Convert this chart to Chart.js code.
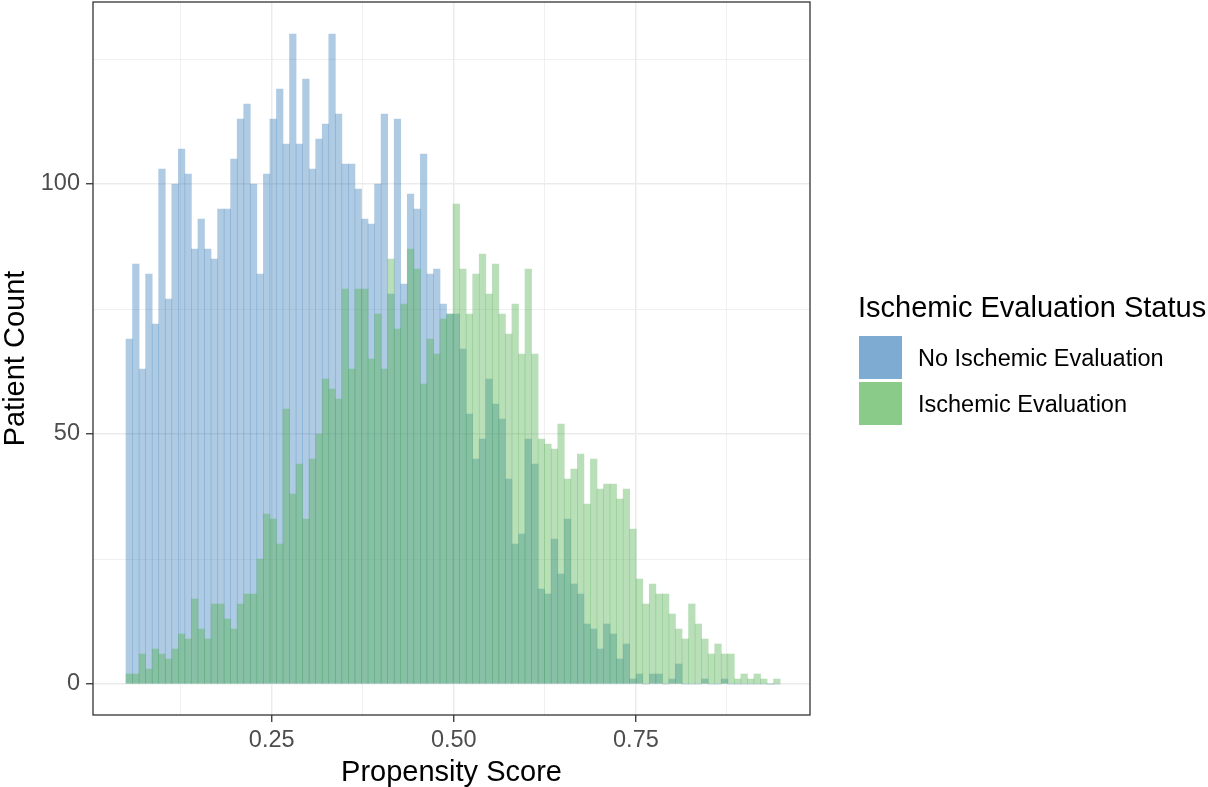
<!DOCTYPE html>
<html>
<head>
<meta charset="utf-8">
<script src="https://cdn.jsdelivr.net/npm/chart.js@4.4.1/dist/chart.umd.min.js"></script>
<style>
  html, body { margin: 0; padding: 0; background: #ffffff; }
  canvas { display: block; }
</style>
</head>
<body>
<canvas id="chart-propensity" width="1208" height="787"></canvas>
<script>
// histogram bins (propensity score)
const binStart = 0.05;
const binWidth = 0.00898;

// patient counts per bin
const noEvalCounts = [
  69, 84, 63, 82, 72, 103, 77, 100, 107, 102,
  87, 93, 87, 85, 95, 95, 105, 113, 116, 100,
  82, 102, 113, 119, 108, 130, 108, 121, 103, 109,
  112, 130, 114, 104, 104, 99, 93, 92, 100, 114,
  78, 113, 80, 98, 95, 106, 82, 83, 76, 74,
  74, 67, 54, 45, 49, 61, 56, 53, 41, 28,
  30, 49, 44, 19, 18, 29, 22, 33, 20, 18,
  12, 11, 7, 12, 10, 5, 8, 1, 2, 0,
  2, 2, 0, 1, 4, 0, 0, 0, 1, 0,
  0, 1, 0, 0, 0, 0, 0, 0, 0, 0
];
const evalCounts = [
  2, 2, 6, 3, 7, 6, 5, 7, 10, 9,
  17, 11, 9, 16, 16, 13, 11, 16, 18, 18,
  25, 34, 33, 28, 55, 38, 44, 33, 45, 50,
  61, 59, 57, 79, 63, 79, 79, 65, 74, 63,
  85, 71, 76, 87, 83, 60, 69, 66, 73, 74,
  96, 83, 74, 82, 86, 78, 84, 74, 70, 76,
  66, 83, 66, 49, 48, 47, 52, 41, 43, 46,
  36, 45, 39, 40, 40, 37, 39, 31, 21, 16,
  20, 18, 18, 14, 11, 9, 16, 12, 9, 6,
  8, 6, 6, 1, 2, 1, 2, 1, 0, 1
];

const seriesNames = ['No Ischemic Evaluation', 'Ischemic Evaluation'];
const legendTitle = 'Ischemic Evaluation Status';

// ticks: empty label = minor grid line only
const xTicks = [0.125, 0.25, 0.375, 0.5, 0.625, 0.75, 0.875];
const xTickLabels = ['', '0.25', '', '0.50', '', '0.75', ''];
const yTicks = [0, 25, 50, 75, 100, 125];
const yTickLabels = ['0', '', '50', '', '100', ''];

const FONT = '"Liberation Sans", Arial, Helvetica, sans-serif';
const barColors = ['rgba(55, 126, 184, 0.4)', 'rgba(77, 175, 74, 0.4)'];
const keyColors = ['rgba(55, 126, 184, 0.65)', 'rgba(77, 175, 74, 0.65)'];

const binCenters = noEvalCounts.map((_, i) => binStart + (i + 0.5) * binWidth);
const toPoints = counts => counts.map((c, i) => ({ x: binCenters[i], y: c }));

// box round the panel, like theme_bw
const panelBorder = {
  id: 'panelBorder',
  afterDatasetsDraw(chart) {
    const { ctx, chartArea: a } = chart;
    ctx.save();
    ctx.strokeStyle = '#333333';
    ctx.lineWidth = 1.3;
    ctx.strokeRect(a.left, a.top, a.right - a.left, a.bottom - a.top);
    ctx.restore();
  }
};

// legend on the right, drawn next to the panel
const sideLegend = {
  id: 'sideLegend',
  afterDraw(chart) {
    const { ctx, chartArea } = chart;
    const x0 = chartArea.right + 49;
    ctx.save();
    ctx.fillStyle = '#000000';
    ctx.font = '29px ' + FONT;
    ctx.textAlign = 'left';
    ctx.textBaseline = 'alphabetic';
    ctx.fillText(legendTitle, x0 - 1, 317);
    chart.data.datasets.forEach((ds, i) => {
      const top = 336 + i * 46;
      ctx.fillStyle = keyColors[i];
      ctx.fillRect(x0, top, 43, 43);
      ctx.fillStyle = '#000000';
      ctx.font = '23.5px ' + FONT;
      ctx.textBaseline = 'middle';
      ctx.fillText(ds.label, x0 + 59, top + 24);
    });
    ctx.restore();
  }
};

const isMajor = labels => ctx => labels[ctx.index] !== '';

new Chart(document.getElementById('chart-propensity'), {
  type: 'bar',
  data: {
    datasets: [
      {
        label: seriesNames[0],
        data: toPoints(noEvalCounts),
        backgroundColor: barColors[0],
        borderWidth: 0,
        order: 2 // drawn first, green goes on top
      },
      {
        label: seriesNames[1],
        data: toPoints(evalCounts),
        backgroundColor: barColors[1],
        borderWidth: 0,
        order: 1
      }
    ]
  },
  options: {
    responsive: false,
    animation: false,
    grouped: false,
    barPercentage: 1,
    categoryPercentage: 1,
    layout: { padding: { left: 0, top: 2, right: 398, bottom: 0 } },
    plugins: {
      legend: { display: false },
      tooltip: { enabled: false }
    },
    scales: {
      x: {
        type: 'linear',
        min: 0.0047,
        max: 0.989,
        offset: false,
        afterBuildTicks: axis => { axis.ticks = xTicks.map(v => ({ value: v })); },
        afterFit: axis => {
          axis.height = 72;
          axis.paddingLeft = 0;
          axis.paddingRight = 0;
        },
        ticks: {
          autoSkip: false,
          maxRotation: 0,
          padding: 4,
          color: '#4D4D4D',
          font: { family: FONT, size: 23.5 },
          callback: (v, i) => xTickLabels[i]
        },
        grid: {
          offset: false,
          color: '#EBEBEB',
          lineWidth: ctx => isMajor(xTickLabels)(ctx) ? 1.5 : 0.75,
          tickLength: 7,
          tickWidth: 1.3,
          tickColor: ctx => isMajor(xTickLabels)(ctx) ? '#333333' : 'rgba(0,0,0,0)'
        },
        border: { display: false },
        title: {
          display: true,
          text: 'Propensity Score',
          color: '#000000',
          font: { family: FONT, size: 29, lineHeight: 1 },
          padding: { top: 0, bottom: 0 }
        }
      },
      y: {
        min: -6.2,
        max: 136.4,
        afterBuildTicks: axis => { axis.ticks = yTicks.map(v => ({ value: v })); },
        afterFit: axis => {
          axis.width = 93;
          axis.paddingTop = 0;
          axis.paddingBottom = 0;
        },
        ticks: {
          autoSkip: false,
          padding: 6,
          color: '#4D4D4D',
          font: { family: FONT, size: 23.5 },
          callback: (v, i) => yTickLabels[i]
        },
        grid: {
          color: '#EBEBEB',
          lineWidth: ctx => isMajor(yTickLabels)(ctx) ? 1.5 : 0.75,
          tickLength: 7,
          tickWidth: 1.3,
          tickColor: ctx => isMajor(yTickLabels)(ctx) ? '#333333' : 'rgba(0,0,0,0)'
        },
        border: { display: false },
        title: {
          display: true,
          text: 'Patient Count',
          color: '#000000',
          font: { family: FONT, size: 29, lineHeight: 1 },
          padding: { top: 1.5, bottom: 0 }
        }
      }
    }
  },
  plugins: [panelBorder, sideLegend]
});
</script>
</body>
</html>
